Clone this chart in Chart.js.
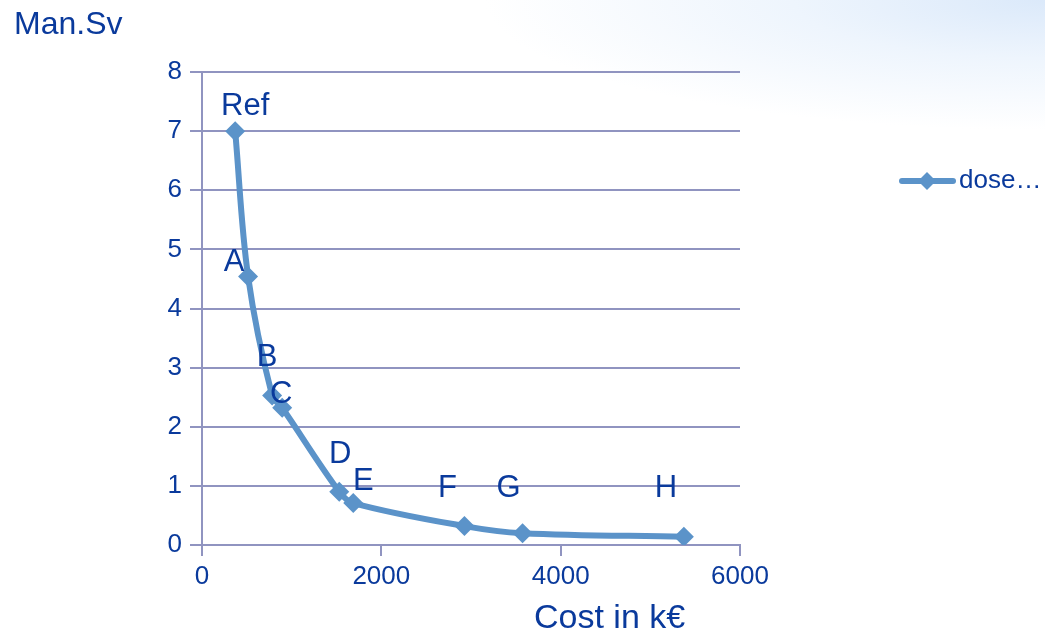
<!DOCTYPE html>
<html>
<head>
<meta charset="utf-8">
<script src="https://cdn.jsdelivr.net/npm/chart.js@4/dist/chart.umd.min.js"></script>
<style>
  html, body { margin: 0; padding: 0; }
  body {
    width: 1045px; height: 638px; overflow: hidden;
    background: radial-gradient(ellipse 560px 130px at 1045px 0px, #dbe9fa 0%, #eef5fd 45%, #ffffff 100%);
  }
  #wrap { position: relative; width: 1045px; height: 638px; }
</style>
</head>
<body>
<div id="wrap"><canvas id="doseChart" width="1045" height="638"></canvas></div>
<script>
// options (scenario names), cost in k€ and collective dose in man.Sv
const options = ["Ref", "A", "B", "C", "D", "E", "F", "G", "H"];
const costs = [370, 514, 782, 894, 1531, 1687, 2927, 3575, 5374];
const doses = [7.0, 4.54, 2.53, 2.32, 0.9, 0.71, 0.32, 0.2, 0.14];
const xTicks = [0, 2000, 4000, 6000];
const yTicks = [0, 1, 2, 3, 4, 5, 6, 7, 8];

const TEXT = "#0a3a9c";
const LINE = "#5b93c9";
const GRID = "#9094c0";
const FONT = "'Liberation Sans', Arial, sans-serif";

// where each letter sits relative to its marker (pixels)
const labelShift = [[10, -25], [-14, -14], [-5, -38], [-1, -13], [1, -37], [10, -22], [-17, -38], [-14, -45], [-18, -48]];

const extras = {
  id: "extras",
  afterDatasetsDraw(chart) {
    const ctx = chart.ctx;
    const meta = chart.getDatasetMeta(0);
    ctx.save();
    ctx.fillStyle = TEXT;
    ctx.textAlign = "center";
    ctx.textBaseline = "middle";
    ctx.font = "31px " + FONT;
    meta.data.forEach((pt, i) => {
      ctx.fillText(options[i], pt.x + labelShift[i][0], pt.y + labelShift[i][1]);
    });

    // axis captions
    ctx.textAlign = "left";
    ctx.font = "32px " + FONT;
    ctx.fillText("Man.Sv", 14, 25);
    ctx.font = "34px " + FONT;
    ctx.fillText("Cost in k€", 534, 619);

    // legend
    const ly = 181;
    ctx.strokeStyle = LINE;
    ctx.lineWidth = 6;
    ctx.lineCap = "round";
    ctx.beginPath();
    ctx.moveTo(902, ly);
    ctx.lineTo(953, ly);
    ctx.stroke();
    ctx.fillStyle = LINE;
    ctx.beginPath();
    ctx.moveTo(927, ly - 9);
    ctx.lineTo(936, ly);
    ctx.lineTo(927, ly + 9);
    ctx.lineTo(918, ly);
    ctx.closePath();
    ctx.fill();
    ctx.fillStyle = TEXT;
    ctx.font = "26px " + FONT;
    ctx.fillText("dose…", 959, ly);
    ctx.restore();
  }
};

new Chart(document.getElementById("doseChart"), {
  type: "scatter",
  data: {
    datasets: [{
      label: "dose…",
      data: costs.map((c, i) => ({ x: c, y: doses[i] })),
      showLine: true,
      tension: 0.35,
      borderColor: LINE,
      borderWidth: 6,
      backgroundColor: LINE,
      pointStyle: "rectRot",
      pointRadius: 10,
      pointBorderWidth: 0,
      pointBackgroundColor: LINE
    }]
  },
  options: {
    responsive: false,
    animation: false,
    layout: { padding: { left: 142, right: 305, top: 72, bottom: 0 } },
    plugins: { legend: { display: false }, tooltip: { enabled: false } },
    scales: {
      x: {
        type: "linear",
        min: xTicks[0],
        max: xTicks[xTicks.length - 1],
        afterBuildTicks: (s) => { s.ticks = xTicks.map(v => ({ value: v })); },
        afterFit: (s) => { s.height = 93; },
        grid: { drawOnChartArea: false, drawTicks: true, tickLength: 11, color: GRID, lineWidth: 2 },
        border: { color: GRID, width: 2 },
        ticks: { color: TEXT, font: { family: FONT, size: 26 }, padding: 5, maxRotation: 0, callback: (v) => String(v) }
      },
      y: {
        type: "linear",
        min: yTicks[0],
        max: yTicks[yTicks.length - 1],
        afterBuildTicks: (s) => { s.ticks = yTicks.map(v => ({ value: v })); },
        afterFit: (s) => { s.width = 60; },
        grid: { color: GRID, lineWidth: 2, drawTicks: true, tickLength: 12 },
        border: { color: GRID, width: 2 },
        ticks: { color: TEXT, font: { family: FONT, size: 26 }, padding: 8, callback: (v) => String(v) }
      }
    }
  },
  plugins: [extras]
});
</script>
</body>
</html>
